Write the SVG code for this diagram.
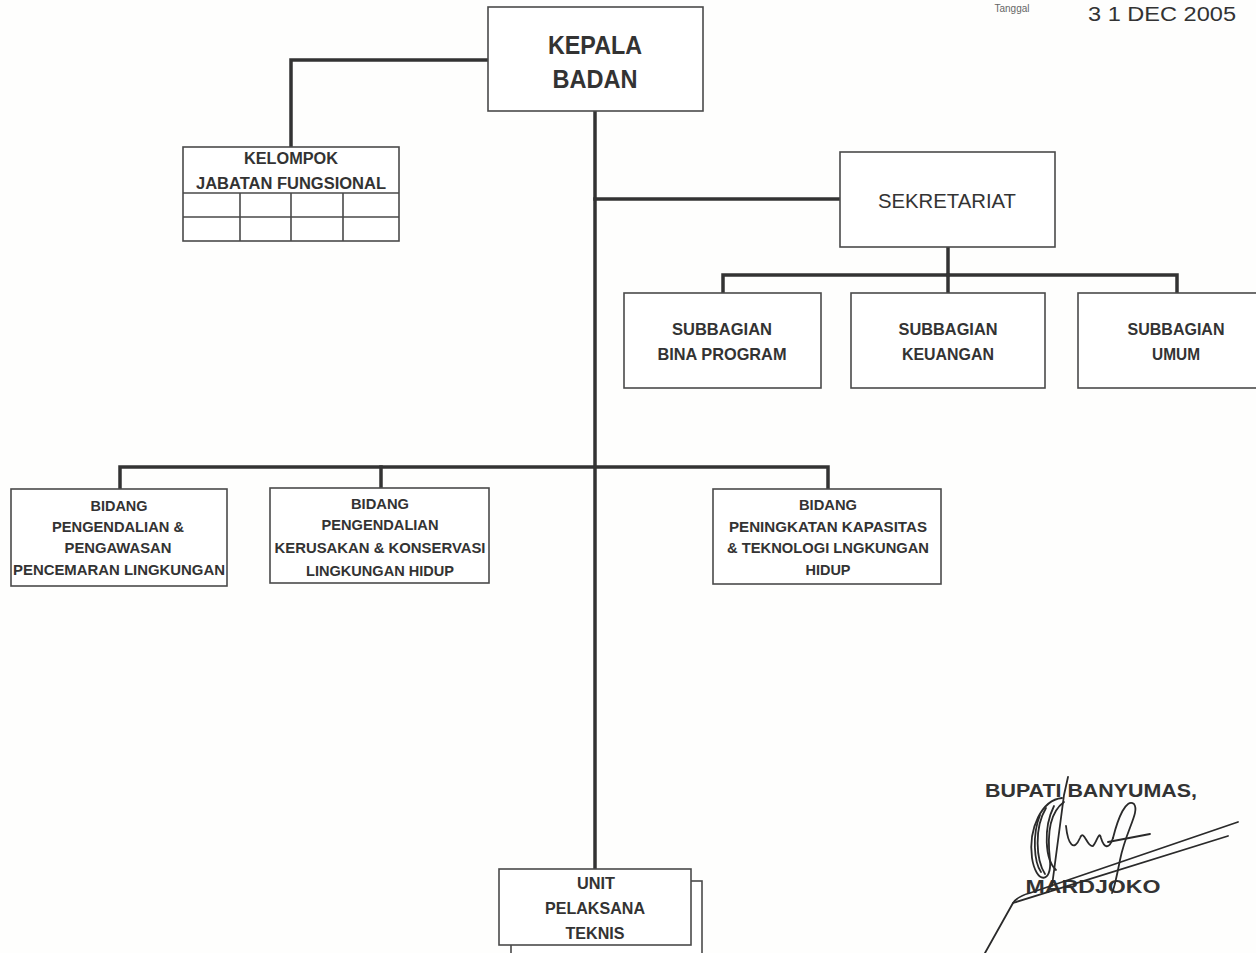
<svg xmlns="http://www.w3.org/2000/svg" width="1256" height="953" viewBox="0 0 1256 953">
<style>
.bg{fill:#fefefd}
.box{fill:#ffffff;stroke:#4a4a4a;stroke-width:1.6}
.cell{fill:none;stroke:#4a4a4a;stroke-width:1.6}
.conn{fill:none;stroke:#333333;stroke-width:3.5;stroke-linecap:square}
.t{font-family:"Liberation Sans",Arial,sans-serif;font-weight:bold;fill:#333333;text-anchor:middle}
.t15{font-size:15px}
.t17{font-size:17px}
.sig{fill:none;stroke:#2a2a2a;stroke-width:1.8;stroke-linecap:round;stroke-linejoin:round}
</style>
<rect class="bg" x="0" y="0" width="1256" height="953"/>

<g id="connectors">
<path class="conn" d="M595,111 V868"/>
<path class="conn" d="M488,60 H291 V147"/>
<path class="conn" d="M595,199 H840"/>
<path class="conn" d="M948,247 V275"/>
<path class="conn" d="M723,293 V275 H1177 V293"/>
<path class="conn" d="M948,275 V293"/>
<path class="conn" d="M120,489 V467 H828 V489"/>
<path class="conn" d="M381,467 V488"/>
</g>

<g id="date-stamp">
<text x="1012" y="12" style="font-family:'Liberation Sans',Arial,sans-serif;font-size:10px;fill:#666" text-anchor="middle">Tanggal</text>
<text x="1162" y="21" style="font-family:'Liberation Sans',Arial,sans-serif;font-size:20px;fill:#333" text-anchor="middle" textLength="148" lengthAdjust="spacingAndGlyphs">3  1 DEC  2005</text>
</g>

<g id="kepala-badan">
<rect class="box" x="488" y="7" width="215" height="104"/>
<text class="t" x="595" y="54" style="font-size:25px" textLength="94" lengthAdjust="spacingAndGlyphs">KEPALA</text>
<text class="t" x="595" y="88" style="font-size:25px" textLength="85" lengthAdjust="spacingAndGlyphs">BADAN</text>
</g>

<g id="kelompok-jabatan-fungsional">
<rect class="box" x="183" y="147" width="216" height="94"/>
<path class="cell" d="M183,193 H399 M183,217 H399 M240,193 V241 M291,193 V241 M343,193 V241"/>
<text class="t" x="291" y="164" style="font-size:16px" textLength="94" lengthAdjust="spacingAndGlyphs">KELOMPOK</text>
<text class="t" x="291" y="189" style="font-size:16px" textLength="190" lengthAdjust="spacingAndGlyphs">JABATAN FUNGSIONAL</text>
</g>

<g id="sekretariat">
<rect class="box" x="840" y="152" width="215" height="95"/>
<text class="t" x="947" y="208" style="font-size:21px;font-weight:normal" textLength="138" lengthAdjust="spacingAndGlyphs">SEKRETARIAT</text>
</g>

<g id="subbagian-bina-program">
<rect class="box" x="624" y="293" width="197" height="95"/>
<text class="t t17" x="722" y="335" textLength="100" lengthAdjust="spacingAndGlyphs">SUBBAGIAN</text>
<text class="t t17" x="722" y="360" textLength="129" lengthAdjust="spacingAndGlyphs">BINA PROGRAM</text>
</g>

<g id="subbagian-keuangan">
<rect class="box" x="851" y="293" width="194" height="95"/>
<text class="t t17" x="948" y="335" textLength="99" lengthAdjust="spacingAndGlyphs">SUBBAGIAN</text>
<text class="t t17" x="948" y="360" textLength="92" lengthAdjust="spacingAndGlyphs">KEUANGAN</text>
</g>

<g id="subbagian-umum">
<rect class="box" x="1078" y="293" width="196" height="95"/>
<text class="t t17" x="1176" y="335" textLength="97" lengthAdjust="spacingAndGlyphs">SUBBAGIAN</text>
<text class="t t17" x="1176" y="360" textLength="48" lengthAdjust="spacingAndGlyphs">UMUM</text>
</g>

<g id="bidang-pengendalian-pengawasan">
<rect class="box" x="11" y="489" width="216" height="97"/>
<text class="t t15" x="119" y="511" textLength="57" lengthAdjust="spacingAndGlyphs">BIDANG</text>
<text class="t t15" x="118" y="532" textLength="132" lengthAdjust="spacingAndGlyphs">PENGENDALIAN &amp;</text>
<text class="t t15" x="118" y="553" textLength="107" lengthAdjust="spacingAndGlyphs">PENGAWASAN</text>
<text class="t t15" x="119" y="575" textLength="212" lengthAdjust="spacingAndGlyphs">PENCEMARAN LINGKUNGAN</text>
</g>

<g id="bidang-pengendalian-kerusakan">
<rect class="box" x="270" y="488" width="219" height="95"/>
<text class="t t15" x="380" y="509" textLength="58" lengthAdjust="spacingAndGlyphs">BIDANG</text>
<text class="t t15" x="380" y="530" textLength="117" lengthAdjust="spacingAndGlyphs">PENGENDALIAN</text>
<text class="t t15" x="380" y="553" textLength="211" lengthAdjust="spacingAndGlyphs">KERUSAKAN &amp; KONSERVASI</text>
<text class="t t15" x="380" y="576" textLength="148" lengthAdjust="spacingAndGlyphs">LINGKUNGAN HIDUP</text>
</g>

<g id="bidang-peningkatan-kapasitas">
<rect class="box" x="713" y="489" width="228" height="95"/>
<text class="t t15" x="828" y="510" textLength="58" lengthAdjust="spacingAndGlyphs">BIDANG</text>
<text class="t t15" x="828" y="532" textLength="198" lengthAdjust="spacingAndGlyphs">PENINGKATAN KAPASITAS</text>
<text class="t t15" x="828" y="553" textLength="202" lengthAdjust="spacingAndGlyphs">&amp; TEKNOLOGI LNGKUNGAN</text>
<text class="t t15" x="828" y="575" textLength="45" lengthAdjust="spacingAndGlyphs">HIDUP</text>
</g>

<g id="unit-pelaksana-teknis">
<rect class="box" x="511" y="881" width="191" height="80"/>
<rect class="box" x="499" y="869" width="192" height="76"/>
<text class="t t17" x="596" y="889" textLength="38" lengthAdjust="spacingAndGlyphs">UNIT</text>
<text class="t t17" x="595" y="914" textLength="100" lengthAdjust="spacingAndGlyphs">PELAKSANA</text>
<text class="t t17" x="595" y="939" textLength="59" lengthAdjust="spacingAndGlyphs">TEKNIS</text>
</g>

<g id="signature-block">
<text class="t" x="1091" y="797" style="font-size:19px" textLength="212" lengthAdjust="spacingAndGlyphs">BUPATI BANYUMAS,</text>
<text class="t" x="1093" y="893" style="font-size:19px" textLength="135" lengthAdjust="spacingAndGlyphs">MARDJOKO</text>
<path class="sig" d="M985,953 L1013,903 Q1018,896 1030,893 L1238,822"/>
<path class="sig" d="M1013,903 L1228,836"/>
<path class="sig" d="M1068,777 L1064,795 L1052,886"/>
<path class="sig" d="M1062,798 C1042,800 1028,828 1032,858 C1036,884 1052,884 1050,860 C1047,835 1050,812 1064,802"/>
<path class="sig" d="M1046,808 C1034,828 1036,860 1045,874 M1054,806 C1043,828 1045,860 1056,870 M1040,815 C1032,835 1034,862 1041,872"/>
<path class="sig" d="M1066,826 C1068,845 1074,852 1080,838 C1084,828 1087,848 1093,846 C1097,842 1099,830 1101,838 C1104,848 1109,850 1113,838"/>
<path class="sig" d="M1113,838 C1118,818 1126,798 1134,804 C1140,812 1126,830 1120,860 C1116,880 1114,890 1112,893"/>
<path class="sig" d="M1108,842 L1150,834"/>
</g>
</svg>
